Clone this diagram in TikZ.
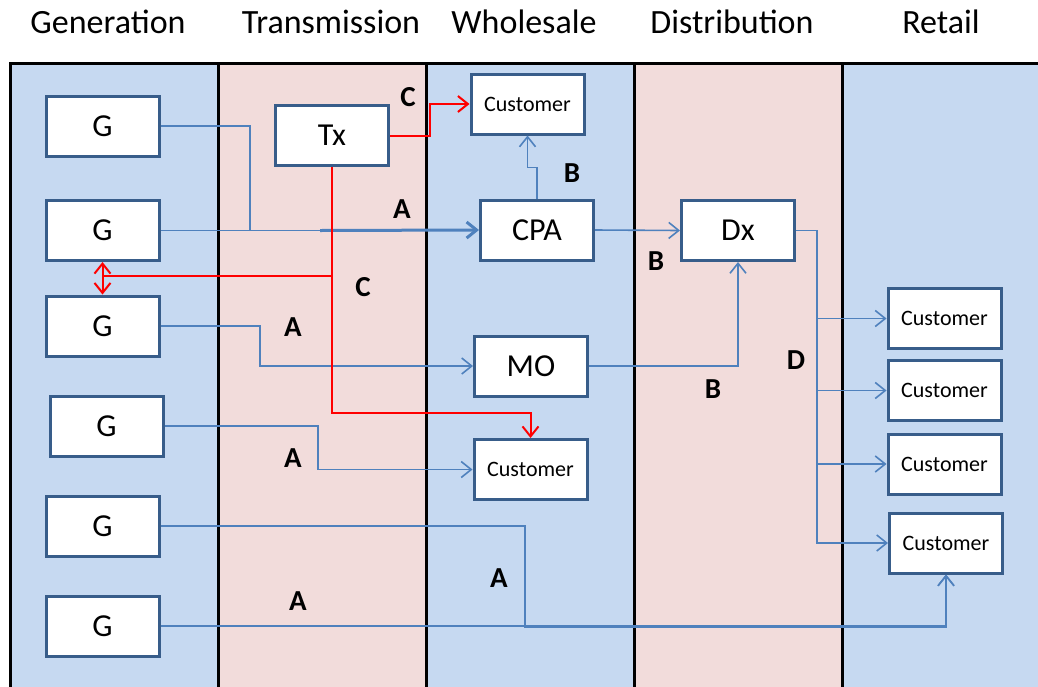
\documentclass[tikz,border=0pt]{standalone}
\usepackage{fontspec}
\setmainfont{Carlito}
\usetikzlibrary{arrows.meta}
\definecolor{laneblue}{HTML}{C6D9F1}
\definecolor{lanepink}{HTML}{F2DCDB}
\definecolor{boxedge}{HTML}{385D8A}
\definecolor{flowblue}{HTML}{4F81BD}
\definecolor{flowred}{HTML}{FF0000}
\tikzset{
  box/.style={rectangle,draw=boxedge,line width=3pt,fill=white,minimum width=113pt,minimum height=60pt,inner sep=0pt,font=\fontsize{32}{32}\selectfont},
  cust/.style={box,font=\fontsize{22}{22}\selectfont},
  lbl/.style={font=\fontsize{29}{29}\selectfont\bfseries},
  title/.style={font=\fontsize{34}{34}\selectfont},
  flow/.style={draw=flowblue,line width=1.6pt},
  redflow/.style={draw=flowred,line width=2pt},
  >={Straight Barb[length=10pt,width=16pt]}
}
\begin{document}
\begin{tikzpicture}[x=1pt,y=-1pt]
    \useasboundingbox (0,0) rectangle (1038,686);

    % lanes
    \fill[laneblue] (10,63) rectangle (218,700);
    \fill[lanepink] (218,63) rectangle (426,700);
    \fill[laneblue] (426,63) rectangle (634,700);
    \fill[lanepink] (634,63) rectangle (842,700);
    \fill[laneblue] (842,63) rectangle (1045,700);
    \draw[line width=3pt] (10,700) -- (10,63) -- (1045,63);
    \foreach \x in {218,426,634,842}
        \draw[line width=3pt] (\x,63) -- (\x,700);

    \node (tGen) at (108,22) [title] {Generation};
    \node (tTra) at (331,22) [title] {Transmission};
    \node (tWho) at (524,22) [title] {Wholesale};
    \node (tDis) at (732,22) [title] {Distribution};
    \node (tRet) at (941,22) [title] {Retail};

    % boxes
    \node (G1) at (102.5,126) [box] {G};
    \node (G2) at (102.5,230.5) [box] {G};
    \node (G3) at (102.5,326) [box] {G};
    \node (G4) at (106.5,426) [box] {G};
    \node (G5) at (102.5,526) [box] {G};
    \node (G6) at (102.5,626) [box] {G};
    \node (Tx) at (332,135.5) [box] {Tx};
    \node (CuTop) at (527.5,104) [cust] {Customer};
    \node (CPA) at (537,230) [box] {CPA};
    \node (MO) at (531,366) [box] {MO};
    \node (CuMid) at (530.5,469.5) [cust] {Customer};
    \node (Dx) at (738,230.5) [box] {Dx};
    \node (R1) at (944.5,318.5) [cust] {Customer};
    \node (R2) at (944.5,390.5) [cust] {Customer};
    \node (R3) at (944.5,464) [cust] {Customer};
    \node (R4) at (946,543) [cust] {Customer};

    % blue flows
    \coordinate (jA) at (320,230.5);
    \draw[flow] (G1.east) -| (250,230.5);
    \draw[flow] (G2.east) -- (jA);
    \draw[flow,line width=3pt,->] (jA) -- (CPA.west);
    \draw[flow,->] (CPA.north) -- ++(0,-31) -| (CuTop.south);
    \draw[flow,->] (CPA.east) -- (Dx.west);
    \draw[flow,->] (MO.east) -| (Dx.south);
    \draw[flow,->] (G3.east) -| (260,366) -- (MO.west);
    \draw[flow,->] (G4.east) -| (318,469.5) -- (CuMid.west);
    \draw[flow,->] (G5.east) -| (525,627) -| (R4.south);
    \draw[flow,->] (G6.east) -| (R4.south);
    \foreach \r in {R1,R2,R3,R4}
        \draw[flow,->] (Dx.east) -- (817,230.5) |- (\r.west);

    % red flows
    \coordinate (jC) at (332,276);
    \draw[redflow,->] (Tx.east) -- (430,135.5) |- (CuTop.west);
    \draw[redflow,->] (Tx.south) -- (332,413) -| (CuMid.north);
    \draw[redflow] (jC) -- (102.5,276);
    \draw[redflow,<->] (G2.south) -- (G3.north);

    % labels
    \node (lC1) at (408,97) [lbl] {C};
    \node (lA1) at (402,209) [lbl] {A};
    \node (lB1) at (572,173) [lbl] {B};
    \node (lC2) at (363,287) [lbl] {C};
    \node (lB2) at (656,261) [lbl] {B};
    \node (lA2) at (293,327) [lbl] {A};
    \node (lB3) at (713,389) [lbl] {B};
    \node (lD) at (796,360) [lbl] {D};
    \node (lA3) at (293,458) [lbl] {A};
    \node (lA4) at (499,578) [lbl] {A};
    \node (lA5) at (298,601) [lbl] {A};
\end{tikzpicture}
\end{document}
